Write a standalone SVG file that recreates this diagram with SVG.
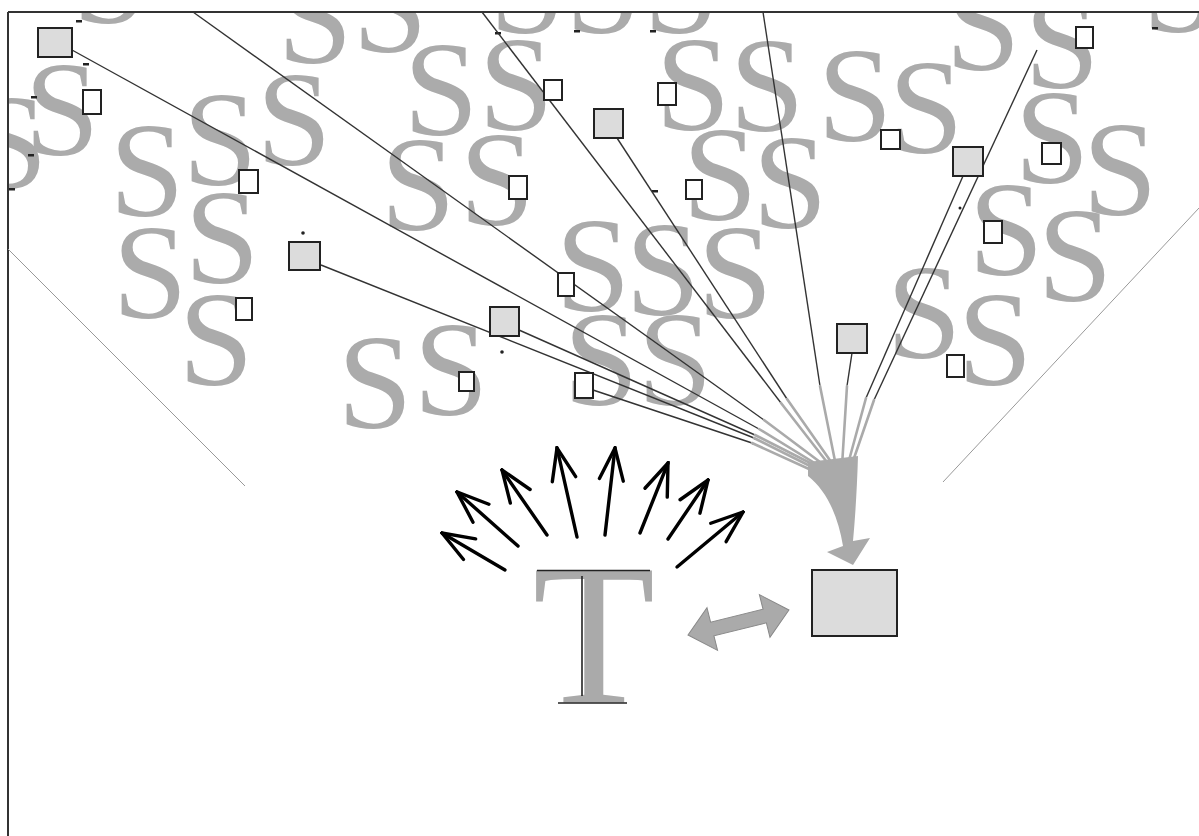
<svg xmlns="http://www.w3.org/2000/svg" width="1199" height="836" viewBox="0 0 1199 836">
  <style>
    .s { font-family: "Liberation Serif", "Times New Roman", serif; font-size: 135px; fill: #ababab; text-anchor: middle; }
    .tee { font-family: "Liberation Serif", "Times New Roman", serif; font-size: 201px; fill: #aaaaaa; text-anchor: middle; }
    .wire { stroke: #333; stroke-width: 1.4; fill: none; }
    .wire-end { stroke: #aaa; stroke-width: 2.6; fill: none; stroke-linecap: round; }
    .guide { stroke: #999; stroke-width: 1; fill: none; }
    .hub { fill: #dcdcdc; stroke: #222; stroke-width: 2; }
    .leaf { fill: #fff; stroke: #222; stroke-width: 2; }
    .ray { stroke: #000; stroke-width: 3.4; fill: none; stroke-linecap: round; marker-end: url(#chevron); }
    .tick { fill: #222; }
  </style>
  <defs>
    <clipPath id="frame">
      <rect x="8" y="12" width="1191" height="824"/>
    </clipPath>
    <marker id="chevron" markerUnits="userSpaceOnUse" viewBox="-36 -15 38 30" refX="0" refY="0" markerWidth="38" markerHeight="30" orient="auto">
      <path d="M-32,-12 L0,0 L-32,12" fill="none" stroke="#000" stroke-width="3.4" stroke-linecap="round" stroke-linejoin="miter"/>
    </marker>
  </defs>

  <rect width="1199" height="836" fill="#fff"/>

  <!-- field of S letters -->
  <g id="letters" clip-path="url(#frame)">
    <text class="s" x="110" y="23">S</text>
    <text class="s" x="10" y="188">S</text>
    <text class="s" x="62" y="155">S</text>
    <text class="s" x="147" y="216">S</text>
    <text class="s" x="220" y="185">S</text>
    <text class="s" x="294" y="165">S</text>
    <text class="s" x="150" y="318">S</text>
    <text class="s" x="222" y="283">S</text>
    <text class="s" x="216" y="385">S</text>
    <text class="s" x="315" y="63">S</text>
    <text class="s" x="390" y="52">S</text>
    <text class="s" x="418" y="230">S</text>
    <text class="s" x="375" y="428">S</text>
    <text class="s" x="451" y="415">S</text>
    <text class="s" x="527" y="33">S</text>
    <text class="s" x="603" y="33">S</text>
    <text class="s" x="681" y="33">S</text>
    <text class="s" x="441" y="135">S</text>
    <text class="s" x="516" y="130">S</text>
    <text class="s" x="497" y="225">S</text>
    <text class="s" x="593" y="311">S</text>
    <text class="s" x="663" y="315">S</text>
    <text class="s" x="735" y="318">S</text>
    <text class="s" x="601" y="405">S</text>
    <text class="s" x="675" y="405">S</text>
    <text class="s" x="693" y="130">S</text>
    <text class="s" x="767" y="131">S</text>
    <text class="s" x="720" y="220">S</text>
    <text class="s" x="790" y="228">S</text>
    <text class="s" x="855" y="141">S</text>
    <text class="s" x="926" y="153">S</text>
    <text class="s" x="983" y="70">S</text>
    <text class="s" x="1062" y="88">S</text>
    <text class="s" x="1052" y="183">S</text>
    <text class="s" x="1120" y="215">S</text>
    <text class="s" x="1006" y="275">S</text>
    <text class="s" x="1075" y="301">S</text>
    <text class="s" x="924" y="358">S</text>
    <text class="s" x="995" y="385">S</text>
    <text class="s" x="1180" y="32">S</text>
    <!-- small dark marks among the letters -->
    <rect class="tick" x="76" y="20" width="6" height="2.5"/>
    <rect class="tick" x="83" y="63" width="6" height="2.5"/>
    <rect class="tick" x="31" y="96" width="6" height="2.5"/>
    <rect class="tick" x="28" y="154" width="6" height="2.5"/>
    <rect class="tick" x="9" y="188" width="6" height="2.5"/>
    <rect class="tick" x="495" y="32" width="6" height="2.5"/>
    <rect class="tick" x="574" y="30" width="6" height="2.5"/>
    <rect class="tick" x="650" y="30" width="6" height="2.5"/>
    <rect class="tick" x="652" y="190" width="6" height="2.5"/>
    <rect class="tick" x="1152" y="27" width="6" height="2.5"/>
    <circle class="tick" cx="303" cy="233" r="1.8"/>
    <circle class="tick" cx="502" cy="352" r="1.8"/>
    <circle class="tick" cx="960" cy="208" r="1.5"/>
  </g>

  <!-- frame edges -->
  <g id="frame-edges" stroke="#333" stroke-width="2" fill="none">
    <line x1="8" y1="12" x2="1199" y2="12"/>
    <line x1="8" y1="12" x2="8" y2="836"/>
  </g>

  <!-- cone guides -->
  <g id="guides">
    <line class="guide" x1="8" y1="249" x2="245" y2="486"/>
    <line class="guide" x1="1199" y1="208" x2="943" y2="482"/>
  </g>

  <!-- connectors converging on the target -->
  <g id="connectors">
    <g class="wire">
      <line x1="193" y1="12" x2="764" y2="420"/>
      <line x1="72" y1="50" x2="759" y2="429"/>
      <line x1="321" y1="265" x2="754" y2="438"/>
      <line x1="482" y1="12" x2="781" y2="403"/>
      <line x1="617" y1="138" x2="787" y2="399"/>
      <line x1="763" y1="12" x2="820" y2="386"/>
      <line x1="852" y1="353" x2="847" y2="386"/>
      <line x1="1037" y1="50" x2="874" y2="400"/>
      <line x1="963" y1="176" x2="866" y2="398"/>
      <line x1="519" y1="330" x2="755" y2="435"/>
      <line x1="593" y1="390" x2="752" y2="443"/>
    </g>
    <g class="wire-end">
      <line x1="764" y1="420" x2="828" y2="468"/>
      <line x1="759" y1="429" x2="826" y2="470"/>
      <line x1="754" y1="438" x2="822" y2="472"/>
      <line x1="781" y1="403" x2="830" y2="466"/>
      <line x1="787" y1="399" x2="834" y2="466"/>
      <line x1="820" y1="386" x2="836" y2="466"/>
      <line x1="847" y1="386" x2="842" y2="466"/>
      <line x1="874" y1="400" x2="852" y2="464"/>
      <line x1="866" y1="398" x2="848" y2="464"/>
      <line x1="755" y1="435" x2="824" y2="470"/>
      <line x1="752" y1="443" x2="820" y2="474"/>
    </g>
    <path d="M808,462 L858,456 C857,490 855,520 853,541 L870,538 L853,565 L827,552 L843,546 C838,515 826,490 808,476 Z" fill="#aaa"/>
  </g>

  <!-- source nodes -->
  <g id="hub-1"><rect class="hub" x="38" y="28" width="34" height="29"/></g>
  <g id="hub-2"><rect class="hub" x="289" y="242" width="31" height="28"/></g>
  <g id="hub-3"><rect class="hub" x="594" y="109" width="29" height="29"/></g>
  <g id="hub-4"><rect class="hub" x="490" y="307" width="29" height="29"/></g>
  <g id="hub-5"><rect class="hub" x="953" y="147" width="30" height="29"/></g>
  <g id="hub-6"><rect class="hub" x="837" y="324" width="30" height="29"/></g>

  <g id="leaf-a"><rect class="leaf" x="83" y="90" width="18" height="24"/></g>
  <g id="leaf-b"><rect class="leaf" x="239" y="170" width="19" height="23"/></g>
  <g id="leaf-c"><rect class="leaf" x="236" y="298" width="16" height="22"/></g>
  <g id="leaf-d"><rect class="leaf" x="544" y="80" width="18" height="20"/></g>
  <g id="leaf-e"><rect class="leaf" x="658" y="83" width="18" height="22"/></g>
  <g id="leaf-f"><rect class="leaf" x="509" y="176" width="18" height="23"/></g>
  <g id="leaf-g"><rect class="leaf" x="686" y="180" width="16" height="19"/></g>
  <g id="leaf-h"><rect class="leaf" x="558" y="273" width="16" height="23"/></g>
  <g id="leaf-i"><rect class="leaf" x="459" y="372" width="15" height="19"/></g>
  <g id="leaf-j"><rect class="leaf" x="575" y="373" width="18" height="25"/></g>
  <g id="leaf-k"><rect class="leaf" x="881" y="130" width="19" height="19"/></g>
  <g id="leaf-l"><rect class="leaf" x="1076" y="27" width="17" height="21"/></g>
  <g id="leaf-m"><rect class="leaf" x="1042" y="143" width="19" height="21"/></g>
  <g id="leaf-n"><rect class="leaf" x="984" y="221" width="18" height="22"/></g>
  <g id="leaf-o"><rect class="leaf" x="947" y="355" width="17" height="22"/></g>

  <!-- target box -->
  <g id="target"><rect class="hub" x="812" y="570" width="85" height="66"/></g>

  <!-- the T with its radiating arrows -->
  <g id="tee">
    <text class="tee" x="594" y="703">T</text>
    <g stroke="#222" stroke-width="1.6" fill="none">
      <line x1="537" y1="570.5" x2="650" y2="570.5"/>
      <line x1="582" y1="576" x2="582" y2="696"/>
      <line x1="558" y1="703" x2="627" y2="703"/>
    </g>
  </g>
  <g id="rays">
    <line class="ray" x1="505" y1="570" x2="442" y2="533"/>
    <line class="ray" x1="518" y1="546" x2="457" y2="492"/>
    <line class="ray" x1="547" y1="535" x2="502" y2="470"/>
    <line class="ray" x1="577" y1="537" x2="557" y2="448"/>
    <line class="ray" x1="605" y1="535" x2="615" y2="448"/>
    <line class="ray" x1="640" y1="533" x2="668" y2="463"/>
    <line class="ray" x1="668" y1="539" x2="708" y2="480"/>
    <line class="ray" x1="677" y1="567" x2="743" y2="512"/>
  </g>

  <!-- two-way exchange arrow -->
  <g id="exchange">
    <polygon transform="translate(688,635) rotate(-13.9)" points="0,0 25,-22 25,-7 79,-7 79,-22 104,0 79,22 79,7 25,7 25,22" fill="#aaa" stroke="#888" stroke-width="1"/>
  </g>
</svg>
